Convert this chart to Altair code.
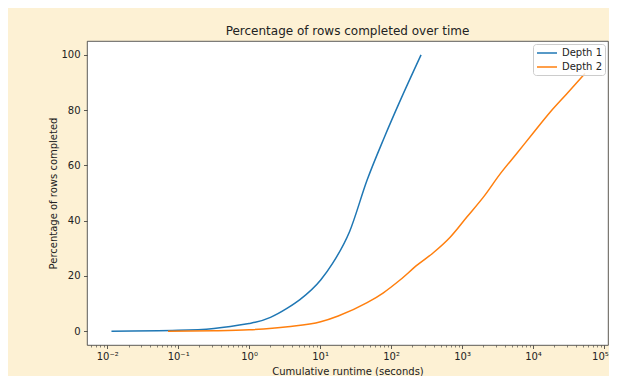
import altair as alt
import pandas as pd

# ---- data ----
series_names = ["Depth 1", "Depth 2"]
series_colors = ["#1f77b4", "#ff7f0e"]

depth1_runtime = [0.0115, 0.1, 0.32, 1.0, 1.22, 2.0, 3.5, 5.2, 10.2, 15, 26, 46, 80, 135, 265]
depth1_pct = [0, 0.3, 1.0, 2.8, 3.2, 5.0, 8.4, 11.4, 18.5, 24.5, 36, 54.7, 70, 83.5, 100]

depth2_runtime = [0.072, 0.32, 1.0, 3.5, 10.2, 18, 46, 78, 135, 235, 390, 680, 1170,
                  2000, 3470, 5900, 10000, 17400, 30000, 54000]
depth2_pct = [0, 0.15, 0.5, 1.6, 3.4, 5.5, 10.3, 13.9, 18.6, 24, 28.3, 34, 41.3,
              48.5, 57, 64.3, 71.6, 79.2, 85.9, 93.2]

major_ticks = [0.01, 0.1, 1, 10, 100, 1000, 10000, 100000]
major_labels = ["10⁻²", "10⁻¹", "10⁰", "10¹", "10²", "10³", "10⁴", "10⁵"]
minor_ticks = [m * 10.0 ** k for k in range(-3, 5) for m in range(2, 10)]
y_ticks = [0, 20, 40, 60, 80, 100]

title_text = "Percentage of rows completed over time"
x_title = "Cumulative runtime (seconds)"
y_title = "Percentage of rows completed"

# ---- build table ----
rows = []
for t, p in zip(depth1_runtime, depth1_pct):
    rows.append({"runtime": t, "pct": p, "series": series_names[0]})
for t, p in zip(depth2_runtime, depth2_pct):
    rows.append({"runtime": t, "pct": p, "series": series_names[1]})
df = pd.DataFrame(rows)

font = "DejaVu Sans"
x_domain = [0.0052, 114000]
minor_vals = [v for v in minor_ticks if x_domain[0] <= v <= x_domain[1]]
all_x_ticks = sorted(major_ticks + minor_vals)

label_expr = ""
for v, lab in zip(major_ticks, major_labels):
    label_expr += f"datum.value == {v} ? '{lab}' : "
label_expr += "''"
major_test = "indexof([" + ",".join(str(v) for v in major_ticks) + "], datum.value) >= 0"
last_test = f"datum.value == {major_ticks[-1]}"

chart = alt.Chart(df).mark_line(interpolate="monotone", strokeWidth=1.5).encode(
    x=alt.X("runtime:Q",
            scale=alt.Scale(type="log", domain=x_domain, nice=False),
            axis=alt.Axis(title=x_title, values=all_x_ticks, labelExpr=label_expr,
                          labelOverlap=False, labelFlush=False,
                          labelOffset={"condition": {"test": last_test, "value": -4}, "value": 0},
                          tickSize={"condition": {"test": major_test, "value": 3.5}, "value": 2},
                          tickWidth={"condition": {"test": major_test, "value": 0.8}, "value": 0.6},
                          labelPadding=3, titlePadding=5)),
    y=alt.Y("pct:Q",
            scale=alt.Scale(domain=[-5, 105], nice=False, zero=False),
            axis=alt.Axis(title=y_title, values=y_ticks, tickSize=3.5, tickWidth=0.8,
                          labelPadding=3.5, titlePadding=2)),
    color=alt.Color("series:N",
                    scale=alt.Scale(domain=series_names, range=series_colors),
                    legend=alt.Legend(title=None, orient="top-right", offset=3,
                                      symbolType="M-1,0H3", symbolSize=100,
                                      symbolStrokeWidth=1.5, labelFont=font,
                                      labelFontSize=10, labelColor="#222",
                                      labelOffset=14, fillColor="rgba(255,255,255,0.8)",
                                      strokeColor="#cccccc", cornerRadius=3,
                                      padding=3, rowPadding=3)),
).properties(
    width=521,
    height=304,
    title=alt.TitleParams(title_text, font=font, fontSize=12, fontWeight="normal",
                          color="#222", anchor="middle", offset=3),
    autosize=alt.AutoSizeParams(type="none"),
    padding={"left": 79, "top": 33, "right": 1, "bottom": 31},
).configure(
    background="#fdf1d4",
).configure_view(
    fill="white", stroke="#333333", strokeWidth=0.8,
).configure_axis(
    domain=False, grid=False, tickColor="#333333",
    labelFont=font, labelFontSize=10, labelColor="#222",
    titleFont=font, titleFontSize=10, titleFontWeight="normal", titleColor="#222",
)

chart.save("out.html", embed_options={"renderer": "svg", "actions": False})
